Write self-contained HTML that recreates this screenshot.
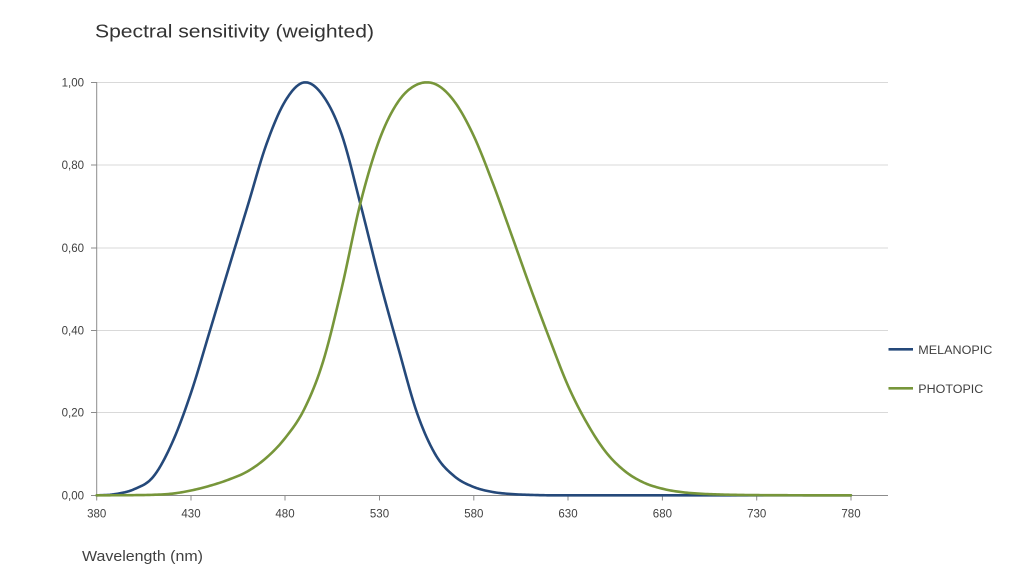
<!DOCTYPE html>
<html>
<head>
<meta charset="utf-8">
<style>
  html, body { margin: 0; padding: 0; background: #ffffff; }
  body { width: 1024px; height: 585px; overflow: hidden; }
  svg { display: block; }
  text { font-family: "Liberation Sans", "DejaVu Sans", sans-serif; fill: #404040; }
</style>
</head>
<body>
<svg id="chart" width="1024" height="585" viewBox="0 0 1024 585" xmlns="http://www.w3.org/2000/svg">
  <rect x="0" y="0" width="1024" height="585" fill="#ffffff"/>
  <!-- Title -->
  <text x="95" y="37.5" font-size="18.5" textLength="279" lengthAdjust="spacingAndGlyphs" style="fill:#333333">Spectral sensitivity (weighted)</text>

  <!-- Gridlines -->
  <g stroke="#d9d9d9" stroke-width="1">
    <line x1="96.7" y1="82.5" x2="888" y2="82.5"/>
    <line x1="96.7" y1="165" x2="888" y2="165"/>
    <line x1="96.7" y1="248" x2="888" y2="248"/>
    <line x1="96.7" y1="330.5" x2="888" y2="330.5"/>
    <line x1="96.7" y1="412.5" x2="888" y2="412.5"/>
  </g>

  <!-- Axes -->
  <g stroke="#8c8c8c" stroke-width="1">
    <line x1="96.7" y1="82" x2="96.7" y2="495.5"/>
    <line x1="96.7" y1="495.5" x2="888" y2="495.5"/>
    <line x1="91" y1="82.5" x2="96.7" y2="82.5"/>
    <line x1="91" y1="165" x2="96.7" y2="165"/>
    <line x1="91" y1="248" x2="96.7" y2="248"/>
    <line x1="91" y1="330.5" x2="96.7" y2="330.5"/>
    <line x1="91" y1="412.5" x2="96.7" y2="412.5"/>
    <line x1="91" y1="495.5" x2="96.7" y2="495.5"/>
    <line x1="96.7" y1="495.5" x2="96.7" y2="500.5"/>
    <line x1="191" y1="495.5" x2="191" y2="500.5"/>
    <line x1="285" y1="495.5" x2="285" y2="500.5"/>
    <line x1="379.5" y1="495.5" x2="379.5" y2="500.5"/>
    <line x1="473.8" y1="495.5" x2="473.8" y2="500.5"/>
    <line x1="568" y1="495.5" x2="568" y2="500.5"/>
    <line x1="662.4" y1="495.5" x2="662.4" y2="500.5"/>
    <line x1="756.7" y1="495.5" x2="756.7" y2="500.5"/>
    <line x1="851" y1="495.5" x2="851" y2="500.5"/>
  </g>

  <!-- Y labels -->
  <g font-size="11.5" text-anchor="end">
    <text x="84" y="86.5">1,00</text>
    <text x="84" y="169">0,80</text>
    <text x="84" y="252">0,60</text>
    <text x="84" y="334.5">0,40</text>
    <text x="84" y="416.5">0,20</text>
    <text x="84" y="499.5">0,00</text>
  </g>

  <!-- X labels -->
  <g font-size="11.5" text-anchor="middle">
    <text x="96.7" y="517.5">380</text>
    <text x="191" y="517.5">430</text>
    <text x="285" y="517.5">480</text>
    <text x="379.5" y="517.5">530</text>
    <text x="473.8" y="517.5">580</text>
    <text x="568" y="517.5">630</text>
    <text x="662.4" y="517.5">680</text>
    <text x="756.7" y="517.5">730</text>
    <text x="851" y="517.5">780</text>
  </g>

  <!-- Axis title -->
  <text x="82" y="561" font-size="14.5" textLength="121" lengthAdjust="spacingAndGlyphs">Wavelength (nm)</text>

  <!-- Series -->
  <path id="mel" d="" fill="none" stroke="#25497a" stroke-width="2.6" stroke-linejoin="round" stroke-linecap="round"/>
  <path id="pho" d="" fill="none" stroke="#77963a" stroke-width="2.6" stroke-linejoin="round" stroke-linecap="round"/>

  <!-- Legend -->
  <line x1="888.5" y1="349.3" x2="913" y2="349.3" stroke="#25497a" stroke-width="2.6"/>
  <text x="918.3" y="353.8" font-size="11.5" textLength="74" lengthAdjust="spacingAndGlyphs">MELANOPIC</text>
  <line x1="888.5" y1="388.3" x2="913" y2="388.3" stroke="#77963a" stroke-width="2.6"/>
  <text x="918.3" y="392.8" font-size="11.5" textLength="65" lengthAdjust="spacingAndGlyphs">PHOTOPIC</text>
</svg>

<script>
(function(){
  // values every 10 nm starting at 380
  var MEL = [0, 0.003, 0.015, 0.045, 0.127, 0.248, 0.398, 0.550, 0.700, 0.850,
             0.955, 1.000, 0.968, 0.873, 0.703, 0.522, 0.356, 0.198, 0.096, 0.045,
             0.020, 0.008, 0.003, 0.001, 0, 0, 0, 0, 0, 0,
             0, 0, 0, 0, 0, 0, 0, 0, 0, 0, 0];
  var PHO = [0.00004, 0.00012, 0.0004, 0.0012, 0.004, 0.0116, 0.023, 0.038, 0.058, 0.091,
             0.139, 0.208, 0.323, 0.503, 0.710, 0.862, 0.954, 0.995, 0.995, 0.952,
             0.870, 0.757, 0.631, 0.503, 0.381, 0.265, 0.175, 0.105, 0.059, 0.031,
             0.016, 0.0078, 0.0039, 0.002, 0.001, 0.0005, 0.00025, 0.00012, 0.00006, 0.00003, 0.000015];

  function cr(arr, nm){
    var pos = (nm-380)/10;
    var i = Math.floor(pos);
    if (i >= arr.length-1) return arr[arr.length-1];
    var t = pos - i;
    var p1 = arr[i], p2 = arr[i+1];
    var p0 = i>0 ? arr[i-1] : p1;
    var p3 = i+2<arr.length ? arr[i+2] : p2;
    return 0.5*((2*p1) + (-p0+p2)*t + (2*p0-5*p1+4*p2-p3)*t*t + (-p0+3*p1-3*p2+p3)*t*t*t);
  }
  function path(arr){
    var s = "";
    for (var nm=380; nm<=780; nm+=1){
      var v = Math.max(0, Math.min(1.0, cr(arr, nm)));
      var X = 96.7 + (nm-380)*1.8855;
      var Y = 495.3 - v*412.9;
      s += (nm===380 ? "M" : "L") + X.toFixed(2) + " " + Y.toFixed(2);
    }
    return s;
  }
  document.getElementById("mel").setAttribute("d", path(MEL));
  document.getElementById("pho").setAttribute("d", path(PHO));
})();
</script>
</body>
</html>
